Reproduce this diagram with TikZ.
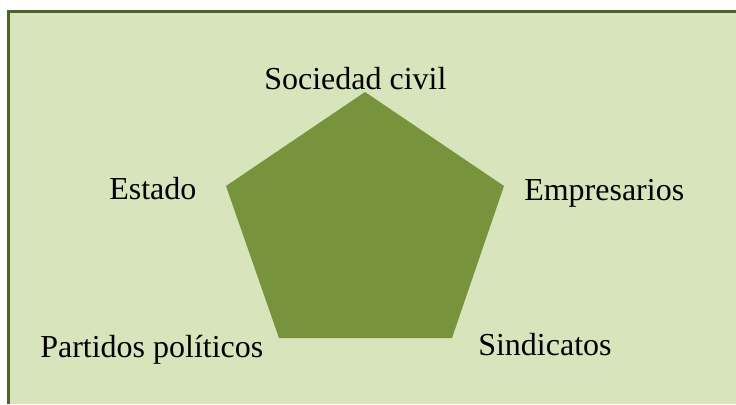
\documentclass[tikz,border=0pt]{standalone}
\usepackage{fontspec}
\setmainfont{Liberation Serif}
\usetikzlibrary{positioning}
\definecolor{fondo}{HTML}{D8E4BC}
\definecolor{borde}{HTML}{4F6228}
\definecolor{olivo}{HTML}{77933C}
\tikzset{actor/.style={font=\fontsize{24}{28}\selectfont, inner sep=0pt, anchor=base west}}

\begin{document}
\begin{tikzpicture}[x=0.75pt,y=-0.75pt]
\useasboundingbox (0,0) rectangle (736,404);
\fill [fondo] (8.5,11.8) rectangle (736,404);
\draw [borde,line width=2.25pt] (736,11.8) -- (8.5,11.8) -- (8.5,404);
\fill [olivo] (365,92) -- (504,186) -- (452,338) -- (279,338) -- (226,186) -- cycle;
\node [actor] (sociedad) at (264,89) {Sociedad civil};
\node [actor] (estado) at (109,199) {Estado};
\node [actor] (empresarios) at (524,200) {Empresarios};
\node [actor] (partidos) at (40,357) {Partidos políticos};
\node [actor] (sindicatos) at (478,355) {Sindicatos};
\end{tikzpicture}
\end{document}
